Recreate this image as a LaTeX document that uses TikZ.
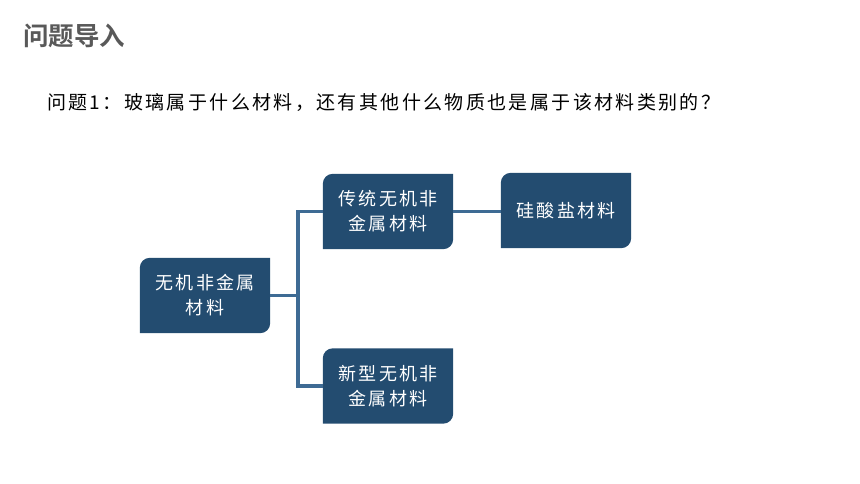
\documentclass[tikz,border=0pt]{standalone}
\usepackage{fontspec}
\setmainfont{Liberation Serif}
\newfontfamily\cjk[LetterSpace=13]{Noto Sans CJK SC}
\newfontfamily\cjkq[LetterSpace=12.5]{Noto Sans CJK SC}
\newfontfamily\cjkb[BoldFont={Noto Sans CJK SC Bold}]{Noto Sans CJK SC}
\usetikzlibrary{backgrounds}
\definecolor{boxc}{HTML}{234C70}
\definecolor{linec}{HTML}{3E6B94}
\definecolor{titlec}{HTML}{595959}
\tikzset{
  mbox/.style={minimum width=130pt, minimum height=75pt, inner sep=0pt, text=white,
    align=center, font=\cjk\fontsize{18}{25}\selectfont},
  conn/.style={draw=linec, line width=3.6pt, line join=miter},
}
\newcommand\diagfill[1]{%
  \fill[boxc] ([yshift=-10pt]#1.north west) arc[start angle=180,end angle=90,radius=10pt]
    -- (#1.north east) -- ([yshift=10pt]#1.south east)
    arc[start angle=0,end angle=-90,radius=10pt] -- (#1.south west) -- cycle;}
\begin{document}
\begin{tikzpicture}[x=1pt,y=1pt]
\useasboundingbox (0,-484) rectangle (860,0);
\node[anchor=west, text=titlec, font=\cjkb\bfseries\fontsize{25.5}{28}\selectfont, inner sep=0pt] (title) at (23,-35.5) {问题导入};
\node[anchor=west, font=\cjkq\fontsize{19}{22}\selectfont, inner sep=0pt] (q) at (47,-102) {问题1：玻璃属于什么材料，还有其他什么物质也是属于该材料类别的？};
\node[mbox] (a) at (205,-295.5) {无机非金属\\材料};
\node[mbox] (b) at (388,-211.5) {传统无机非\\金属材料};
\node[mbox] (c) at (388,-386) {新型无机非\\金属材料};
\node[mbox] (d) at (566,-210.5) {硅酸盐材料};
\begin{scope}[on background layer]
\diagfill{a}\diagfill{b}\diagfill{c}\diagfill{d}
\path (a.east) ++(28,0) coordinate (j);
\draw[conn] (a.east) -- (j);
\draw[conn] (b.west) -| (j);
\draw[conn] (c.west) -| (j);
\draw[conn] (b.east) -- (b.east -| d.west);
\end{scope}
\end{tikzpicture}
\end{document}
